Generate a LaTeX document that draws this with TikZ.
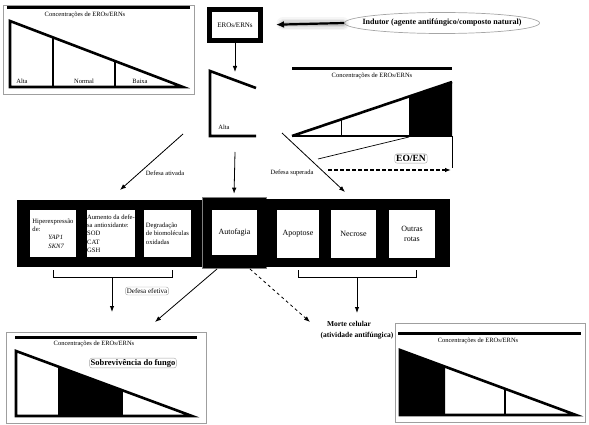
\documentclass[tikz,border=0pt]{standalone}
\usepackage{fontspec}
\setmainfont{Liberation Serif}
\usetikzlibrary{arrows.meta,shapes.geometric}
\begin{document}
\begin{tikzpicture}[x=1pt,y=-1pt,
  tip/.style={-{Latex[length=6pt,width=4.5pt]}},
  frame/.style={draw=gray!75, line width=0.8pt},
  bar/.style={line width=3pt},
  tri/.style={line width=2.6pt, line join=miter},
  divider/.style={line width=1.8pt},
  small/.style={font=\fontsize{6.5}{7.5}\selectfont, inner sep=0pt},
  boxtext/.style={font=\fontsize{6.6}{8.3}\selectfont},
  whitebox/.style={fill=white, inner sep=0pt, minimum height=47pt},
  band/.style={fill=black, inner sep=0pt, anchor=north west},
  lbl/.style={draw=gray!70, rounded corners=2.5pt, fill=white, inner sep=1.5pt},
  bracket/.style={line width=0.9pt}
]
\useasboundingbox (0,0) rectangle (589,425);

% ---------- top-left panel ----------
\draw[frame] (3,5) rectangle (194,94);
\draw[bar] (7,8) -- (190,8);
\node[small] (tlt) at (85,15) {Concentrações de EROs/ERNs};
\draw[tri] (10,87) -- (10,21) -- (183,87) -- cycle;
\draw[divider] (53,87) -- (53,37.4);
\draw[divider] (115,87) -- (115,61);
\node[small] (tla) at (22,81) {Alta};
\node[small] (tln) at (84,81) {Normal};
\node[small] (tlb) at (140,81) {Baixa};

% ---------- EROs box and inducer ----------
\node[draw, line width=5pt, minimum width=51pt, minimum height=31pt, inner sep=0pt,
      font=\fontsize{7}{8}\selectfont] (ero) at (235,25) {EROs/ERNs};
\node[ellipse, draw=gray!70, line width=0.7pt, minimum width=195pt, minimum height=21pt, inner sep=0pt,
      label={[font=\bfseries\fontsize{8}{9}\selectfont]center:Indutor (agente antifúngico/composto natural)}]
      (ind) at (442,23) {};
\foreach \w/\o in {13/0.07, 10/0.1, 7/0.15, 4.5/0.25}
  \draw[line width=\w pt, gray, opacity=\o, line cap=round] (283,24) -- (343,24);
\draw[line width=2.2pt, -{Latex[length=8pt,width=7pt]}, shorten >=13pt] (ind.west) -- (ero.east);

% ---------- "Alta" partial triangle ----------
\coordinate (altatop) at (235,72);
\draw[tip, line width=0.8pt] (ero.south) -- (altatop);
\draw[tri] (256,88) -- (210,71) -- (210,136) -- (256,136);
\node[small] (alta) at (224,127) {Alta};

% ---------- top-right panel ----------
\draw[bar] (292,69) -- (452,69);
\node[small] (trt) at (372,76) {Concentrações de EROs/ERNs};
\fill (409,136) -- (409,96.5) -- (452,82) -- (452,136) -- cycle;
\draw[tri] (292,136) -- (452,82);
\draw[line width=2pt] (292,136) -- (452,136);
\draw[line width=1pt] (341,136) -- (341,119.5);
\draw[line width=0.8pt] (452,136) -- (452,168);
\draw[line width=0.7pt] (318,159) -- (409,137);
\node[lbl, font=\bfseries\fontsize{9.5}{10}\selectfont] (eoen) at (411,158.5) {EO/EN};
\coordinate (dashs) at (328,170);
\coordinate (dashe) at (451,170);
\draw[tip, line width=1.8pt, dash pattern=on 4pt off 2pt] (dashs) -- (dashe);

% ---------- middle arrows ----------
\coordinate (atS) at (183,134);
\coordinate (atE) at (120,190);
\draw[tip, line width=0.8pt] (atS) -- (atE);
\node[small] (ativ) at (165,173) {Defesa ativada};
\coordinate (supS) at (282,133);
\coordinate (supE) at (345,192);
\draw[tip, line width=0.8pt] (supS) -- (supE);
\node[small] (sup) at (292,173) {Defesa superada};
\coordinate (autS) at (235,152);

% ---------- left band ----------
\node[band, minimum width=185pt, minimum height=67pt] (lband) at (17,200) {};
\node[whitebox, minimum width=46pt, align=left, boxtext] (hip) at (53,233.5)
  {Hiperexpressão\\de:\\\hspace*{16pt}\textit{YAP1}\\\hspace*{16pt}\textit{SKN7}};
\node[whitebox, minimum width=48pt, align=left, boxtext] (aum) at (111,233.5)
  {Aumento da defe-\\sa antioxidante:\\SOD\\CAT\\GSH};
\node[whitebox, minimum width=47pt, align=left, boxtext] (deg) at (167.5,233.5)
  {Degradação\\de biomoléculas\\oxidadas};

% ---------- autofagia ----------
\node[fill=black, draw=gray, line width=0.6pt, minimum width=64pt, minimum height=71pt, inner sep=0pt] (autob) at (234,232.5) {};
\node[fill=white, minimum width=45pt, minimum height=45pt, inner sep=0pt,
      font=\fontsize{8}{9}\selectfont] (auto) at (234.5,232.5) {Autofagia};
\draw[tip, line width=0.8pt, shorten >=3pt] (autS) -- (autob.north);

% ---------- right band ----------
\node[band, minimum width=185pt, minimum height=68pt] (rband) at (265,199) {};
\node[whitebox, minimum width=42pt, minimum height=48pt, font=\fontsize{8}{9}\selectfont] (apo) at (298,234) {Apoptose};
\node[whitebox, minimum width=45pt, minimum height=48pt, font=\fontsize{8}{9}\selectfont] (nec) at (353.5,234) {Necrose};
\node[whitebox, minimum width=46pt, minimum height=48pt, align=center, font=\fontsize{8}{10}\selectfont] (out) at (412,234) {Outras\\rotas};

% ---------- brackets and lower arrows ----------
\draw[bracket] (53,270) -- (53,277) -- (172,277) -- (172,270);
\coordinate (lbr) at (112,277);
\coordinate (lbrE) at (112,312);
\draw[tip, line width=0.9pt] (lbr) -- (lbrE);
\node[lbl, font=\fontsize{7}{8}\selectfont] (efet) at (147,291) {Defesa efetiva};

\draw[bracket] (298,270) -- (298,277) -- (416,277) -- (416,270);
\coordinate (rbr) at (357,277);
\coordinate (rbrE) at (357,313);
\draw[tip, line width=0.9pt] (rbr) -- (rbrE);

\coordinate (aS1) at (217,269);
\coordinate (aE1) at (155,322);
\draw[tip, line width=0.8pt] (aS1) -- (aE1);
\coordinate (aS2) at (250,269);
\coordinate (aE2) at (310,322);
\draw[tip, line width=0.8pt, dashed] (aS2) -- (aE2);

\node[font=\bfseries\fontsize{7.5}{8.5}\selectfont, inner sep=0pt] (morte1) at (349,324) {Morte celular};
\node[font=\bfseries\fontsize{7.5}{8.5}\selectfont, inner sep=0pt] (morte2) at (357,336) {(atividade antifúngica)};

% ---------- bottom-left panel ----------
\draw[frame] (6,332) rectangle (206,423);
\draw[bar] (15,337) -- (197,337);
\node[small] (blt) at (94,344) {Concentrações de EROs/ERNs};
\fill (59,416) -- (59,366.9) -- (122,390.1) -- (122,416) -- cycle;
\draw[tri] (16,416) -- (16,351) -- (192,416) -- cycle;
\draw[divider] (59,416) -- (59,366.9);
\draw[divider] (122,416) -- (122,390.1);
\node[lbl, font=\bfseries\fontsize{8.5}{9}\selectfont, inner sep=1pt] (sobre) at (133,363) {Sobrevivência do fungo};

% ---------- bottom-right panel ----------
\draw[frame] (395,323) rectangle (585,422);
\draw[bar] (398,333) -- (581,333);
\node[small] (brt) at (478,341) {Concentrações de EROs/ERNs};
\fill (400,415) -- (400,350) -- (445,366.6) -- (445,415) -- cycle;
\draw[tri] (400,415) -- (400,350) -- (576,415) -- cycle;
\draw[divider] (505,415) -- (505,388.8);
\end{tikzpicture}
\end{document}
